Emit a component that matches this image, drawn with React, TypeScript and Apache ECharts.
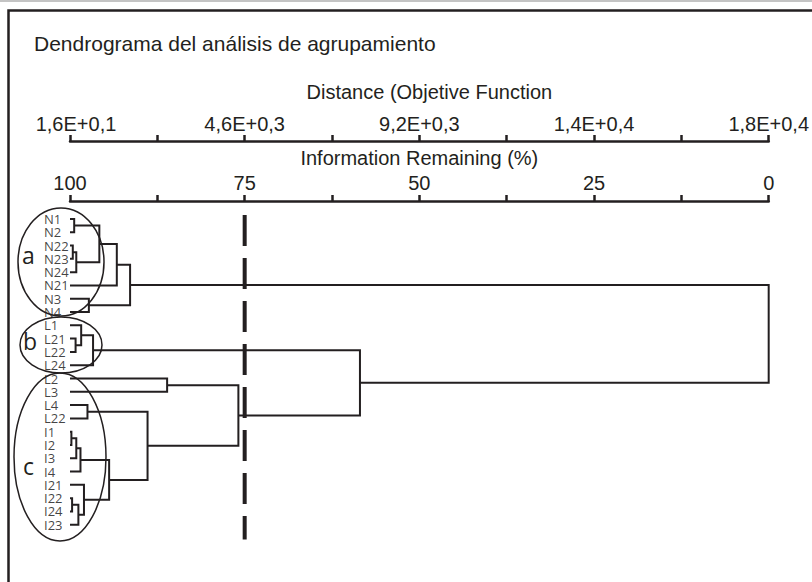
import React, { useEffect, useRef } from 'react';
import * as echarts from 'echarts';

// Leaves, top to bottom
const leafNames = ['N1', 'N2', 'N22', 'N23', 'N24', 'N21', 'N3', 'N4', 'L1', 'L21', 'L22', 'L24', 'L2', 'L3', 'L4', 'L22', 'I1', 'I2', 'I3', 'I4', 'I21', 'I22', 'I24', 'I23'];

// Merges (node id of merge k = leafNames.length + k)
const mergeLeft = [0, 2, 25, 24, 27, 6, 28, 9, 8, 32, 12, 14, 16, 36, 37, 21, 39, 20, 38, 35, 34, 33, 30];
const mergeRight = [1, 3, 4, 26, 5, 7, 29, 10, 31, 11, 13, 15, 17, 18, 19, 22, 23, 40, 41, 42, 43, 44, 45];
// Information remaining (%) at each merge
const mergeLevel = [99.4, 99.6, 99.1, 95.8, 93.3, 97.3, 91.4, 99.2, 98.4, 96.7, 86.1, 97.5, 99.8, 99.1, 98.5, 99.7, 98.8, 98.0, 94.4, 88.9, 75.9, 58.5, 0];

// Axis tick labels
const infoTicks = [100, 75, 50, 25, 0];
const distanceLabels = ['1,6E+0,1', '4,6E+0,3', '9,2E+0,3', '1,4E+0,4', '1,8E+0,4'];

// Cut line (information remaining %)
const cutLevel = 75;

const INK = '#231f20';
const AX_FONT = '"Liberation Sans", Arial, sans-serif';
const LEAF_FONT = '"Open Sans", "Noto Sans", sans-serif';

export default function App() {
  const ref = useRef<HTMLDivElement>(null);
  useEffect(() => {
    if (!ref.current) return;
    const chart = echarts.init(ref.current, null, { renderer: 'svg' });

    const n = leafNames.length;
    const nodeH: number[] = leafNames.map(() => 100);
    const nodeY: number[] = leafNames.map((_, i) => i);
    const linkData: number[][] = [];
    mergeLeft.forEach((a, k) => {
      const b = mergeRight[k];
      const h = mergeLevel[k];
      linkData.push([nodeH[a], nodeY[a], nodeH[b], nodeY[b], h]);
      nodeH[n + k] = h;
      nodeY[n + k] = (nodeY[a] + nodeY[b]) / 2;
    });

    const baseAxis = {
      type: 'value',
      position: 'top',
      inverse: true,
      min: 0,
      max: 100,
      interval: 12.5,
      nameLocation: 'middle',
      nameTextStyle: { fontSize: 20, fontFamily: AX_FONT, color: INK },
      axisLine: { show: true, onZero: false, lineStyle: { color: INK, width: 2.5 } },
      axisTick: { show: true, inside: false, length: 6, lineStyle: { color: INK, width: 2.5 } },
      splitLine: { show: false },
    };

    chart.setOption({
      animation: false,
      backgroundColor: '#ffffff',
      grid: { left: 70, right: 39, top: 201, bottom: 24, containLabel: false },
      xAxis: [
        {
          ...baseAxis,
          name: 'Information Remaining (%)',
          nameGap: 30,
          axisLabel: {
            margin: 8,
            fontSize: 20,
            fontFamily: AX_FONT,
            color: INK,
            formatter: (v: number) => (infoTicks.includes(v) ? String(v) : ''),
          },
        },
        {
          ...baseAxis,
          offset: 60,
          name: 'Distance (Objetive Function',
          nameGap: 39,
          nameTextStyle: { fontSize: 20, fontFamily: AX_FONT, color: INK, padding: [0, 0, 0, 20] },
          axisLabel: {
            margin: 7,
            fontSize: 20,
            fontFamily: AX_FONT,
            color: INK,
            formatter: (v: number) => {
              const i = infoTicks.indexOf(v);
              if (i < 0) return '';
              return i === 0 ? '{f|' + distanceLabels[i] + '}' : distanceLabels[i];
            },
            rich: { f: { fontSize: 20, fontFamily: AX_FONT, color: INK, padding: [0, 0, 0, 12] } },
          },
        },
      ],
      yAxis: { type: 'value', show: false, inverse: true, min: -1.35, max: 25.5 },
      graphic: [
        { type: 'line', shape: { x1: 0, y1: 1, x2: 812, y2: 1 }, style: { stroke: '#b0b0b0', lineWidth: 1.5 } },
        { type: 'rect', shape: { x: 8.5, y: 10.5, width: 900, height: 700 }, style: { fill: 'none', stroke: INK, lineWidth: 2.5 } },
        { type: 'text', left: 34, top: 33, style: { text: 'Dendrograma del análisis de agrupamiento', fontSize: 21, fontFamily: AX_FONT, fill: INK } },
        { type: 'ellipse', z: 10, shape: { cx: 61, cy: 262, rx: 43, ry: 54 }, style: { fill: 'none', stroke: INK, lineWidth: 1.5 } },
        { type: 'ellipse', z: 10, shape: { cx: 61, cy: 345, rx: 41, ry: 28 }, style: { fill: 'none', stroke: INK, lineWidth: 1.5 } },
        { type: 'ellipse', z: 10, shape: { cx: 60, cy: 457, rx: 46, ry: 84 }, style: { fill: 'none', stroke: INK, lineWidth: 1.5 } },
        { type: 'text', z: 10, x: 22, y: 243, style: { text: 'a', fontSize: 23, fontFamily: LEAF_FONT, fill: INK } },
        { type: 'text', z: 10, x: 23, y: 329, style: { text: 'b', fontSize: 23, fontFamily: LEAF_FONT, fill: INK } },
        { type: 'text', z: 10, x: 23, y: 454, style: { text: 'c', fontSize: 23, fontFamily: LEAF_FONT, fill: INK } },
      ],
      series: [
        {
          type: 'custom',
          xAxisIndex: 0,
          yAxisIndex: 0,
          data: linkData,
          renderItem: (_params: any, api: any) => {
            const p1 = api.coord([api.value(0), api.value(1)]);
            const p2 = api.coord([api.value(4), api.value(1)]);
            const p3 = api.coord([api.value(4), api.value(3)]);
            const p4 = api.coord([api.value(2), api.value(3)]);
            return {
              type: 'polyline',
              shape: { points: [p1, p2, p3, p4] },
              style: { stroke: INK, lineWidth: 2, fill: 'none' },
            };
          },
        },
        {
          type: 'scatter',
          xAxisIndex: 0,
          yAxisIndex: 0,
          symbolSize: 0,
          data: leafNames.map((name, i) => ({ value: [100, i], name })),
          label: {
            show: true,
            position: 'left',
            distance: 26,
            align: 'left',
            verticalAlign: 'middle',
            formatter: (p: any) => p.name,
            fontSize: 13,
            lineHeight: 12,
            fontFamily: LEAF_FONT,
            color: '#111',
          },
          labelLayout: { hideOverlap: false },
          silent: true,
        },
        {
          type: 'line',
          xAxisIndex: 0,
          yAxisIndex: 0,
          symbol: 'none',
          data: [[cutLevel, -0.3], [cutLevel, 24.1]],
          lineStyle: { color: INK, width: 4, type: [31, 12] },
          silent: true,
        },
      ],
    });
    return () => chart.dispose();
  }, []);
  return <div ref={ref} style={{ position: 'fixed', left: 0, top: 0, width: 812, height: 582, background: '#fff' }} />;
}
